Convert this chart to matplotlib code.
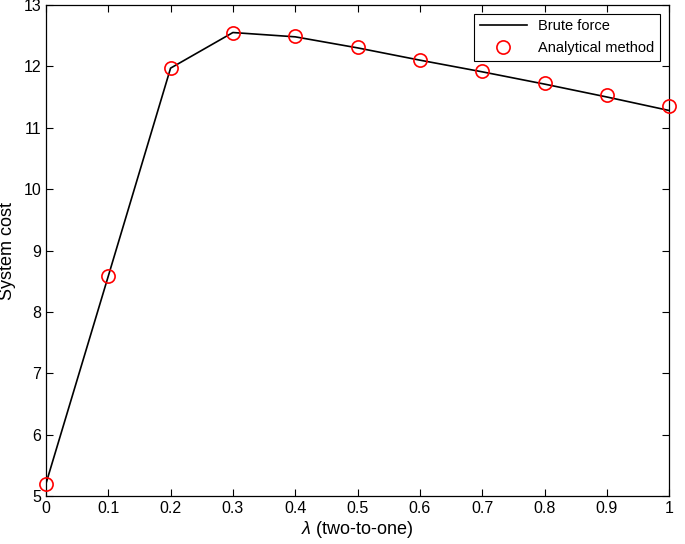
import matplotlib
matplotlib.use('Agg')
import matplotlib.pyplot as plt

plt.rcParams['font.family'] = ['Liberation Sans', 'DejaVu Sans']
plt.rcParams['mathtext.fontset'] = 'custom'
plt.rcParams['mathtext.it'] = 'Liberation Sans:italic'
plt.rcParams['mathtext.rm'] = 'Liberation Sans'

# lambda values and costs
lam = [0, 0.1, 0.2, 0.3, 0.4, 0.5, 0.6, 0.7, 0.8, 0.9, 1.0]
brute = [5.2, 8.58, 11.97, 12.55, 12.48, 12.30, 12.10, 11.91, 11.71, 11.50, 11.28]
analytic = [5.2, 8.58, 11.97, 12.55, 12.50, 12.31, 12.11, 11.92, 11.73, 11.54, 11.35]

fig = plt.figure(figsize=(6.85, 5.44), dpi=100)
ax = fig.add_axes([0.067, 0.088, 0.910, 0.903])

ax.plot(lam, brute, color='black', lw=1.2, label='Brute force')
ax.plot(lam, analytic, 'o', mfc='none', mec='red', ms=9.5, mew=1.2,
        label='Analytical method', clip_on=False, zorder=5)

ax.set_xlim(0, 1)
ax.set_ylim(5, 13)
ax.set_xticks([0, 0.1, 0.2, 0.3, 0.4, 0.5, 0.6, 0.7, 0.8, 0.9, 1])
ax.set_xticklabels(['0', '0.1', '0.2', '0.3', '0.4', '0.5', '0.6', '0.7', '0.8', '0.9', '1'])
ax.set_yticks(range(5, 14))
ax.tick_params(direction='in', top=True, right=True, labelsize=11.5, length=5, width=0.8)
for s in ax.spines.values():
    s.set_linewidth(0.9)

ax.set_xlabel(r'$\lambda$ (two-to-one)', fontsize=13, labelpad=2)
ax.set_ylabel('System cost', fontsize=13, labelpad=5)

leg = ax.legend(loc='upper right', fontsize=10.5, fancybox=False, edgecolor='black',
                framealpha=1, borderaxespad=0.6, handlelength=3.2)
leg.get_frame().set_linewidth(0.8)

fig.savefig('out.png', dpi=100)
